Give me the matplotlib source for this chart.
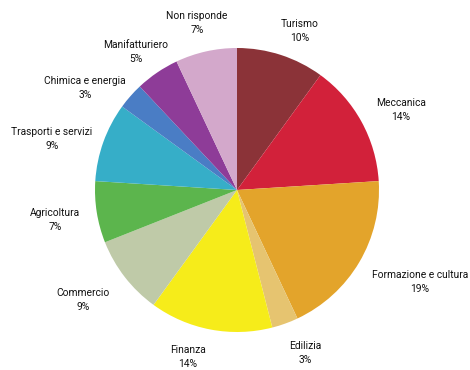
import matplotlib.pyplot as plt

sectors = ['Turismo', 'Meccanica', 'Formazione e cultura', 'Edilizia', 'Finanza',
           'Commercio', 'Agricoltura', 'Trasporti e servizi', 'Chimica e energia',
           'Manifatturiero', 'Non risponde']
shares = [10, 14, 19, 3, 14, 9, 7, 9, 3, 5, 7]
colors = ['#8b3338', '#d2213a', '#e3a42b', '#e6c470', '#f6ec1a', '#bfcaa8',
          '#5cb54d', '#36aec8', '#4a7dc5', '#8e3c98', '#d3a8cb']
# label anchor points, in pixels from the top-left corner
label_xy = [(300, 31), (401, 110), (420, 282), (305, 353), (188, 357), (83, 300),
            (55, 220), (52, 139), (85, 88), (136, 52), (197, 23)]

W, H = 470, 370
fig = plt.figure(figsize=(W / 100, H / 100), dpi=100)
ax = fig.add_axes([0, 0, 1, 1])

ax.pie(shares, colors=colors, startangle=90, counterclock=False,
       center=(237, H - 190), radius=142, wedgeprops=dict(linewidth=0))
ax.set_xlim(0, W)
ax.set_ylim(0, H)
ax.set_aspect('equal')
ax.axis('off')

for name, val, (x, y) in zip(sectors, shares, label_xy):
    ax.text(x, H - y, f"{name}\n{val}%", ha='center', va='center', fontsize=7.4,
            family=['Roboto', 'DejaVu Sans'], linespacing=1.45, color='#111111')

fig.savefig('out.png', dpi=100)
